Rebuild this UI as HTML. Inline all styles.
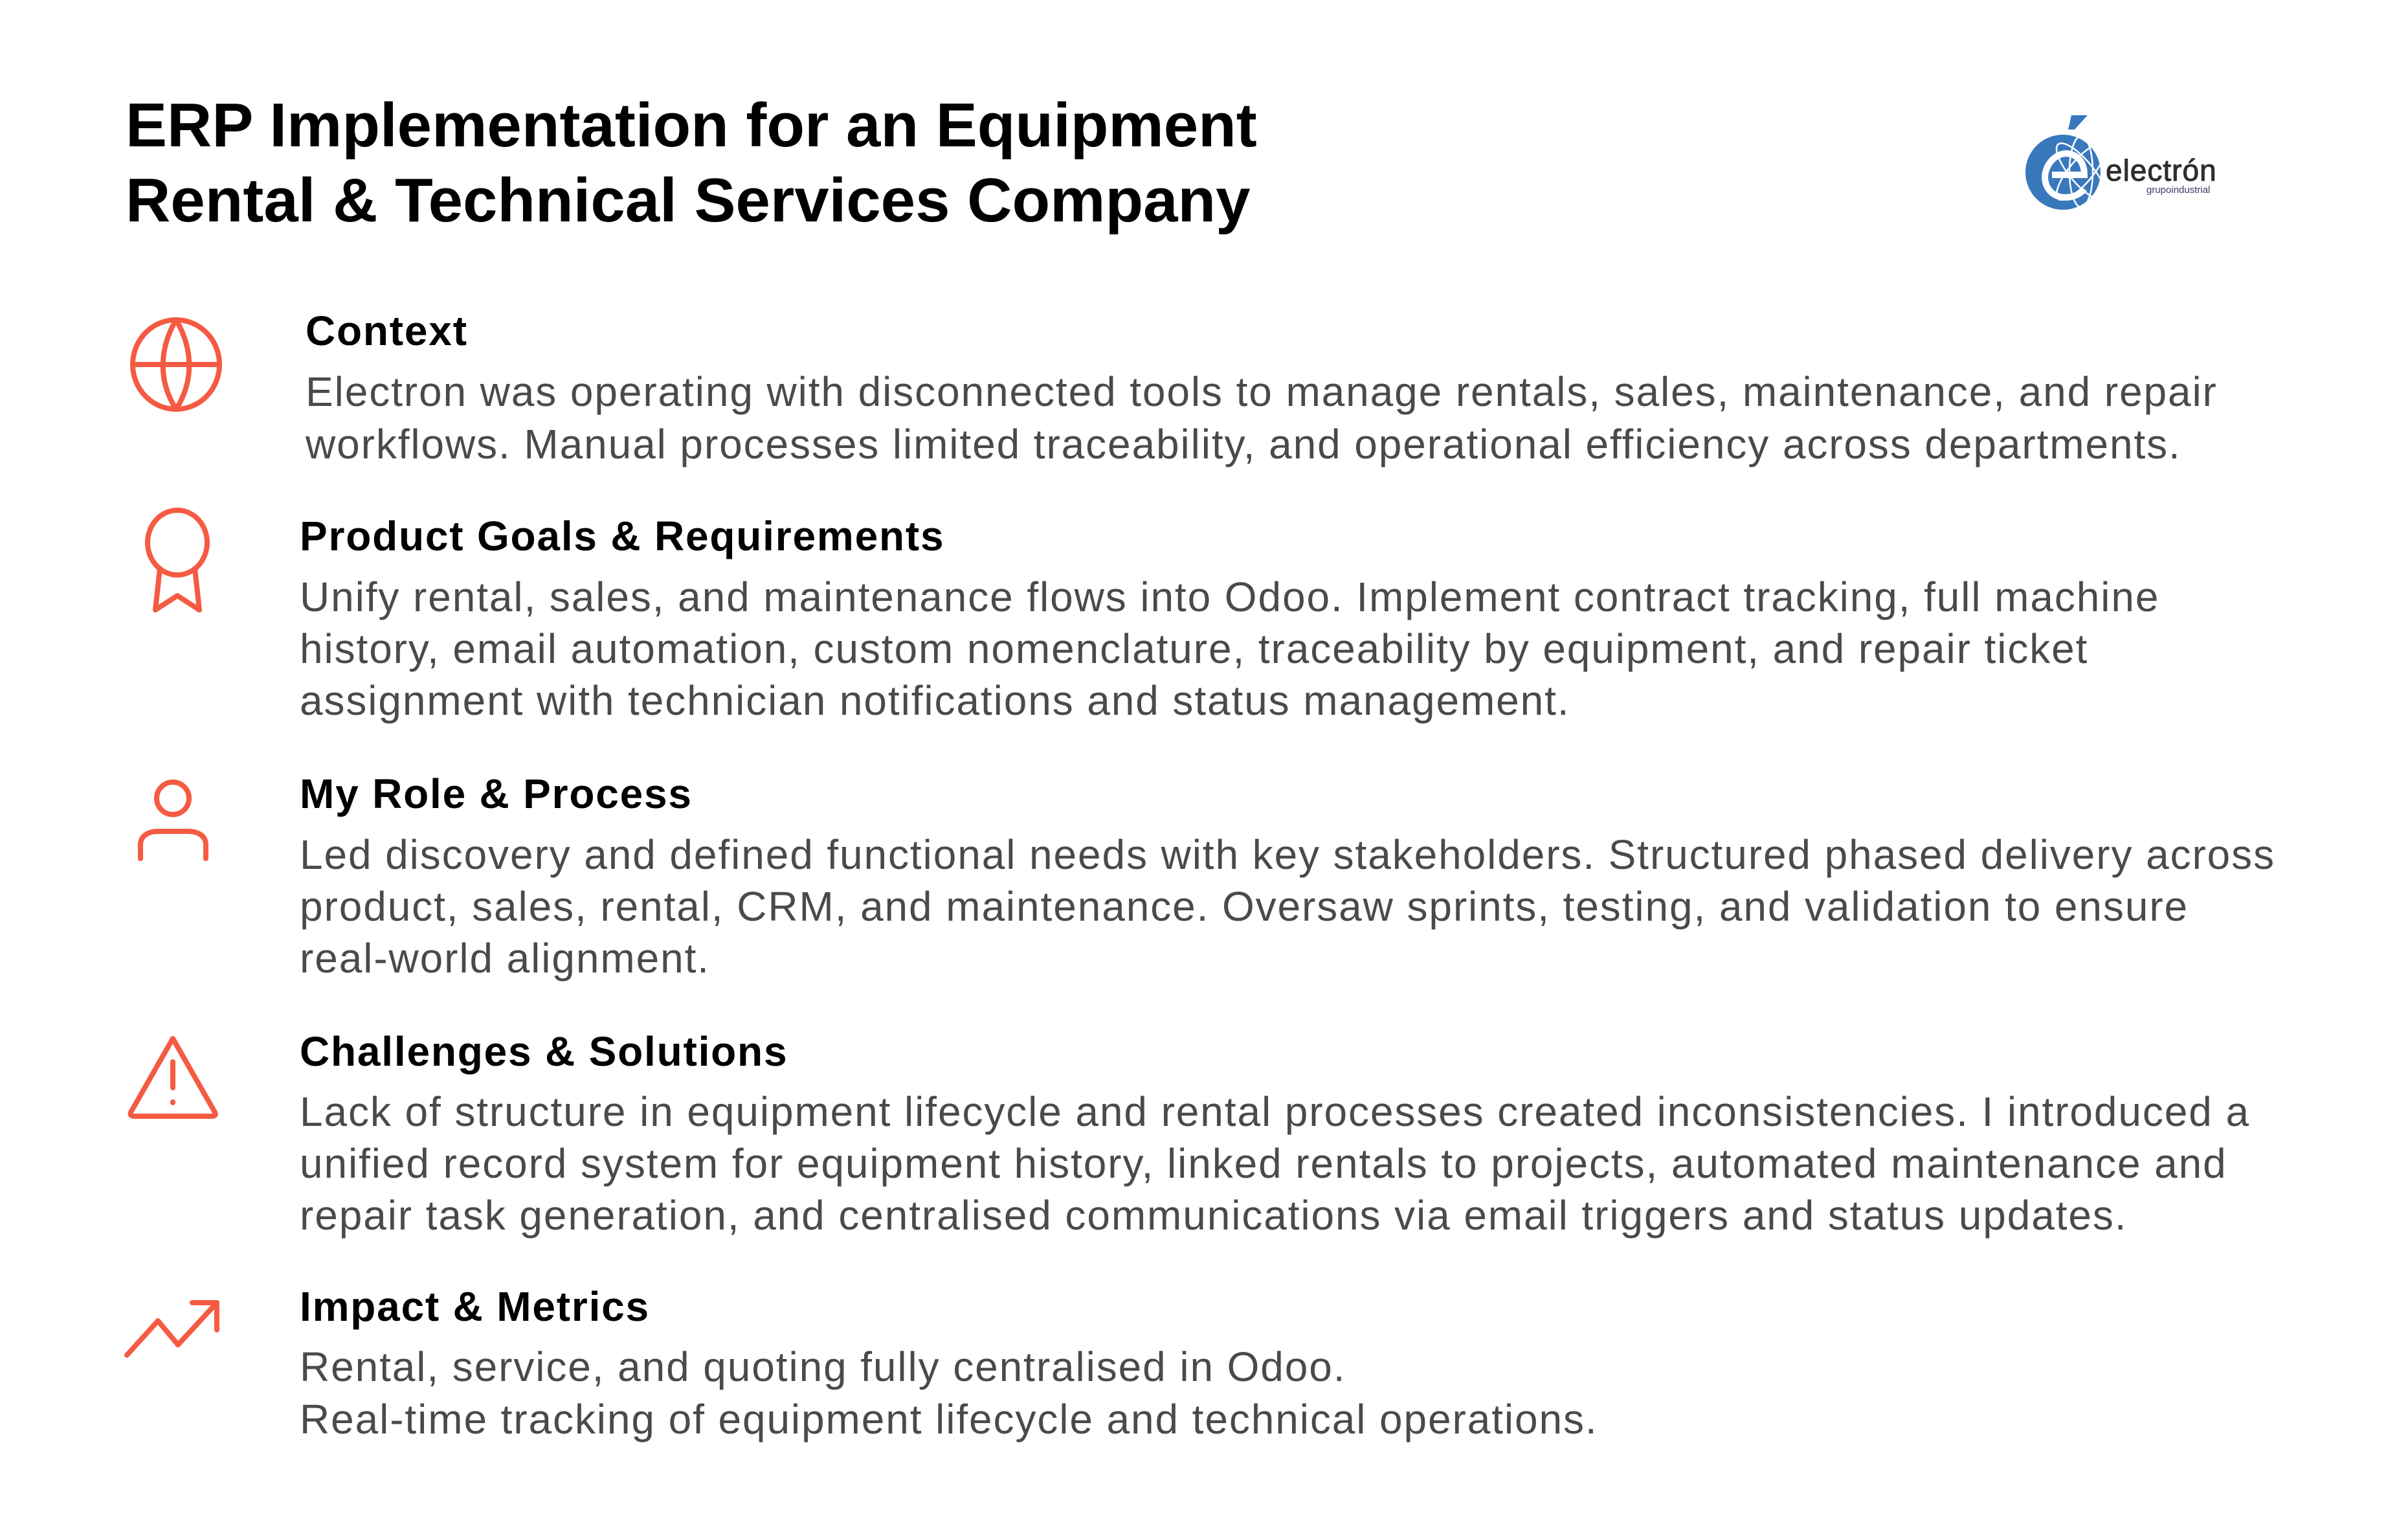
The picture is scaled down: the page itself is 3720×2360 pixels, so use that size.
<!DOCTYPE html>
<html><head><meta charset="utf-8"><style>
html,body{margin:0;padding:0;background:#fff;}
body{width:3720px;height:2360px;position:relative;overflow:hidden;font-family:"Liberation Sans",Arial,sans-serif;}
.t{position:absolute;white-space:nowrap;margin:0;}
.title{left:194px;font-size:96px;font-weight:bold;color:#000;letter-spacing:0px;}
.h{font-size:64px;font-weight:bold;color:#000;letter-spacing:1.8px;}
.b{font-size:64px;color:#4a4a4a;letter-spacing:1.9px;}
svg{position:absolute;left:0;top:0;}
</style></head><body>
<div class="t title" style="top:136px;line-height:116px;">ERP Implementation for an Equipment<br>Rental &amp; Technical Services Company</div>

<svg width="3720" height="2360">
 <g fill="none" stroke="#f55a42" stroke-width="8" stroke-linecap="round" stroke-linejoin="round">
  <g>
   <ellipse cx="272" cy="563" rx="67" ry="69"/>
   <line x1="205" y1="563" x2="339" y2="563"/>
   <path d="M272 494 C245 540 245 590 272 632 C299 590 299 540 272 494"/>
  </g>
  <g>
   <ellipse cx="274" cy="838" rx="46" ry="50"/>
   <path d="M247 878 L240 942 L274 920 L308 942 L301 878"/>
  </g>
  <g>
   <circle cx="267" cy="1233" r="25"/>
   <path d="M217 1326 L217 1305 C217 1290 230 1284 245 1284 L290 1284 C305 1284 318 1290 318 1305 L318 1326"/>
  </g>
  <g>
   <path d="M267 1604 L202 1718 Q200 1724 208 1724 L327 1724 Q335 1724 332 1718 Z"/>
   <line x1="267" y1="1640" x2="267" y2="1680"/>
   <line x1="267" y1="1702" x2="267" y2="1703"/>
  </g>
  <g>
   <polyline points="196,2093 244,2040 275,2077 335,2012"/>
   <polyline points="297,2012 335,2012 335,2054"/>
  </g>
 </g>
 <g>
  <circle cx="3187" cy="266" r="58" fill="#3a78bd"/>
  <path d="M3200 178 L3225 178 L3205 200 L3195 200 Z" fill="#3a78bd"/>
  <path d="M3170 270 L3220 270 C3220 240 3195 232 3180 240 C3160 250 3150 280 3170 298 C3185 310 3210 305 3220 292" fill="none" stroke="#fff" stroke-width="10"/>
  <g fill="none" stroke="#fff" stroke-width="2.5">
   <ellipse cx="3215" cy="265" rx="18" ry="55"/>
   <ellipse cx="3215" cy="265" rx="18" ry="55" transform="rotate(40 3215 265)"/>
   <ellipse cx="3215" cy="265" rx="18" ry="55" transform="rotate(-40 3215 265)"/>
  </g>
  <text x="3253" y="279" font-family="Liberation Sans, sans-serif" font-size="46" fill="#2e2e2e" stroke="#2e2e2e" stroke-width="1" letter-spacing="1">electrón</text>
  <text x="3316" y="298" font-family="Liberation Sans, sans-serif" font-size="15" fill="#3a3a6a">grupoindustrial</text>
 </g>
</svg>

<div class="t h" style="left:472px;top:474px;">Context</div>
<div class="t b" style="left:472px;top:565px;line-height:81px;">Electron was operating with disconnected tools to manage rentals, sales, maintenance, and repair<br>workflows. Manual processes limited traceability, and operational efficiency across departments.</div>

<div class="t h" style="left:463px;top:791px;">Product Goals &amp; Requirements</div>
<div class="t b" style="left:463px;top:882px;line-height:80px;">Unify rental, sales, and maintenance flows into Odoo. Implement contract tracking, full machine<br>history, email automation, custom nomenclature, traceability by equipment, and repair ticket<br>assignment with technician notifications and status management.</div>

<div class="t h" style="left:463px;top:1189px;">My Role &amp; Process</div>
<div class="t b" style="left:463px;top:1280px;line-height:80px;">Led discovery and defined functional needs with key stakeholders. Structured phased delivery across<br>product, sales, rental, CRM, and maintenance. Oversaw sprints, testing, and validation to ensure<br>real-world alignment.</div>

<div class="t h" style="left:463px;top:1587px;">Challenges &amp; Solutions</div>
<div class="t b" style="left:463px;top:1677px;line-height:80px;">Lack of structure in equipment lifecycle and rental processes created inconsistencies. I introduced a<br>unified record system for equipment history, linked rentals to projects, automated maintenance and<br>repair task generation, and centralised communications via email triggers and status updates.</div>

<div class="t h" style="left:463px;top:1981px;">Impact &amp; Metrics</div>
<div class="t b" style="left:463px;top:2071px;line-height:81px;">Rental, service, and quoting fully centralised in Odoo.<br>Real-time tracking of equipment lifecycle and technical operations.</div>
</body></html>
